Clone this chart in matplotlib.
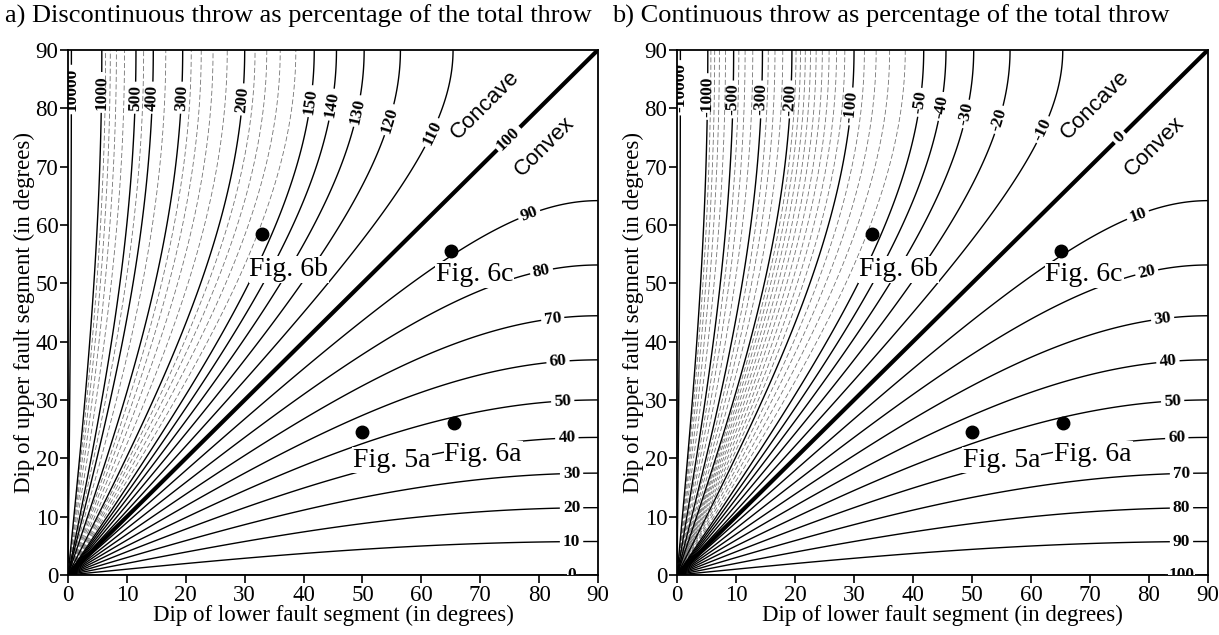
import numpy as np
import matplotlib
matplotlib.use("Agg")
import matplotlib.pyplot as plt

plt.rcParams['font.family'] = ['Liberation Serif', 'DejaVu Serif']

# discontinuous throw (%) = 100 * sin(upper dip) / sin(lower dip)
lower_dip = np.linspace(0.02, 90, 1801)
upper_dip = np.linspace(-0.5, 90, 1503)
X, Y = np.meshgrid(lower_dip, upper_dip)
disc = 100 * np.sin(np.radians(Y)) / np.sin(np.radians(X))
cont = 100 - disc

# panel a levels
major_a = [0, 10, 20, 30, 40, 50, 60, 70, 80, 90, 100, 110, 120, 130, 140, 150,
           200, 300, 400, 500, 1000, 10000]
minor_a = [160, 170, 180, 190, 220, 240, 260, 280, 350, 450, 600, 700, 800, 900]
# panel b levels
major_b = [-10000, -1000, -500, -300, -200, -100, -50, -40, -30, -20, -10, 0,
           10, 20, 30, 40, 50, 60, 70, 80, 90, 100]
minor_b = [-900, -800, -700, -600, -450, -400, -350, -275, -250, -225,
           -190, -180, -170, -160, -150, -140, -130, -120, -110,
           -90, -80, -70, -60]

# where the labels sit: upper contours by upper dip, lower ones by lower dip
lab_up_a = {10000: 83.2, 1000: 82.7, 500: 81.8, 400: 81.8, 300: 81.8, 200: 81.5,
            150: 81.2, 140: 80.6, 130: 79.5, 120: 78, 110: 75.8, 100: 74.8}
lab_low_a = {90: 78.3, 80: 80.4, 70: 82.3, 60: 83.2, 50: 84, 40: 84.7,
             30: 85.5, 20: 85.5, 10: 85.5, 0: 85.5}
lab_up_b = {-10000: 83.5, -1000: 82, -500: 81.5, -300: 81.5, -200: 81.5,
            -100: 80.3, -50: 81, -40: 80.3, -30: 79, -20: 78, -10: 76.3, 0: 75}
lab_low_b = {10: 78.1, 20: 79.6, 30: 82.3, 40: 83.2, 50: 84, 60: 84.7,
             70: 85.5, 80: 85.5, 90: 85.5, 100: 85.5}

fig_names = ['Fig. 6b', 'Fig. 6c', 'Fig. 5a', 'Fig. 6a']
fig_lower = [33, 65, 50, 65.5]
fig_upper = [58.5, 55.5, 24.5, 26]
fig_text_xy = [(37.5, 52.3), (69, 51.5), (55, 19.7), (70.5, 20.6)]

titles = ['a) Discontinuous throw as percentage of the total throw',
          'b) Continuous throw as percentage of the total throw']


def label_positions(lab_up, lab_low, to_disc):
    pos = []
    for lev, yy in lab_up.items():
        d = to_disc(lev)
        xx = np.degrees(np.arcsin(np.sin(np.radians(yy)) * 100.0 / d))
        pos.append((xx, yy))
    for lev, xx in lab_low.items():
        d = to_disc(lev)
        yy = np.degrees(np.arcsin(d / 100.0 * np.sin(np.radians(xx))))
        pos.append((xx, yy))
    return pos


def panel(ax, field, major, minor, thick, lab_up, lab_low, to_disc, edge_lev):
    ax.contour(X, Y, field, levels=sorted(minor), colors='0.45',
               linewidths=0.6, linestyles=[(0, (6, 3))])
    lw = [3.0 if l == thick else 1.0 for l in major]
    cs = ax.contour(X, Y, field, levels=major, colors='black', linewidths=lw,
                    linestyles='solid')
    pos = label_positions(lab_up, lab_low, to_disc)
    texts = ax.clabel(cs, manual=pos, inline=True, inline_spacing=3,
                      fontsize=12.5, fmt=lambda v: '%d' % round(v))
    for t in texts:
        t.set_fontweight('bold')
        if t.get_text() == str(edge_lev):
            t.set_bbox(dict(fc='white', ec='none', pad=0.3))
            t.set_zorder(5)

    ax.plot(fig_lower, fig_upper, 'o', color='black', ms=9, zorder=6)
    for name, (tx, ty) in zip(fig_names, fig_text_xy):
        ax.text(tx, ty, name, fontsize=20, ha='center', va='center', zorder=7,
                bbox=dict(fc='white', ec='none', pad=0.5))

    ax.text(70.8, 80.6, 'Concave', family='Liberation Sans', fontsize=16,
            rotation=45, ha='center', va='center', zorder=7)
    ax.text(81, 73.5, 'Convex', family='Liberation Sans', fontsize=16,
            rotation=45, ha='center', va='center', zorder=7)

    ax.set_xlim(0, 90)
    ax.set_ylim(0, 90)
    ax.set_xticks(range(0, 91, 10))
    ax.set_yticks(range(0, 91, 10))
    ax.tick_params(direction='out', length=6, width=1.2, labelsize=16.5, pad=1)
    for s in ax.spines.values():
        s.set_linewidth(1.3)
    ax.set_xlabel('Dip of lower fault segment (in degrees)', fontsize=16.5,
                  labelpad=-1)
    ax.set_ylabel('Dip of upper fault segment (in degrees)', fontsize=16.5,
                  labelpad=0)


fig = plt.figure(figsize=(12.19, 6.35), dpi=100)
ax1 = fig.add_axes([0.0558, 0.0945, 0.4348, 0.827])
ax2 = fig.add_axes([0.5554, 0.0945, 0.4356, 0.827])

panel(ax1, disc, major_a, minor_a, 100, lab_up_a, lab_low_a, lambda l: l, 0)
panel(ax2, cont, major_b, minor_b, 0, lab_up_b, lab_low_b, lambda l: 100 - l, 100)

fig.text(0.004, 0.975, titles[0], fontsize=19, ha='left', va='center')
fig.text(0.502, 0.975, titles[1], fontsize=19, ha='left', va='center')

fig.savefig('out.png', dpi=100)
